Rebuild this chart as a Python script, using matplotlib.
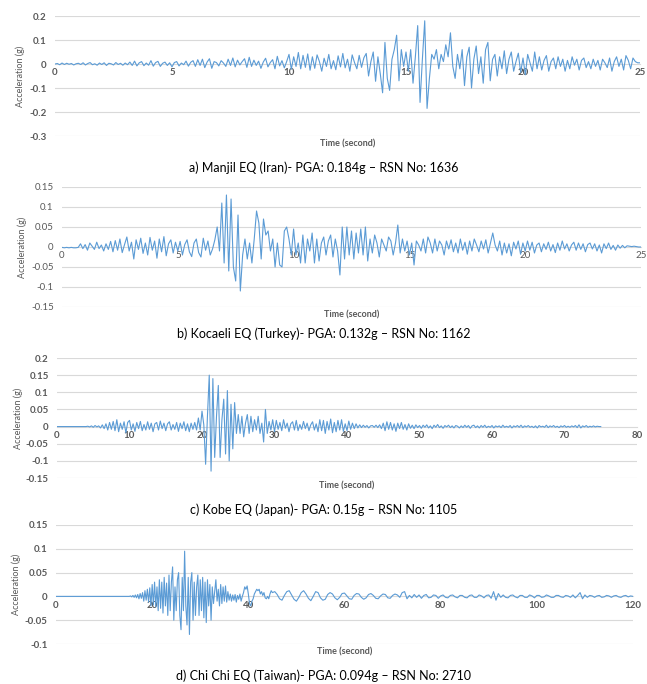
import numpy as np
import matplotlib
matplotlib.use('Agg')
import matplotlib.pyplot as plt

plt.rcParams['font.family'] = ['Lato', 'DejaVu Sans']

# ground motion records, in milli-g
# a) Manjil, sampled every 0.1 s from 0 to 25 s
manjil_dt = 0.1
manjil_mg = [
    0, 2, -3, 4, -2, 3, -1, 2, -4, 1,
    3, -2, 5, -4, 2, 6, -3, 1, -5, 4,
    -2, 5, -6, 3, 1, -4, 6, -2, 3, -5,
    4, -3, 8, -6, 12, -8, 5, 10, -7, 4,
    -5, 14, -9, 6, 11, -10, 3, 8, -6, 5,
    -12, 6, 10, -8, 4, -3, 12, -9, 7, 14,
    -10, 18, -6, 20, -15, 8, 22, -18, 10, 6,
    -8, 14, 4, -10, 20, -6, 25, -12, 16, -4,
    10, 22, -14, 28, -10, 16, -6, 12, -18, 8,
    24, -12, 6, 18, -20, 32, -8, 14, -16, 10,
    40, -22, 30, -10, 48, -20, 36, -14, 42, -26,
    30, -18, 38, 10, -30, 24, -10, 40, -20, 14,
    -24, 34, -12, 44, -16, 20, -30, 38, 6, -20,
    36, -14, 26, 44, -50, 10, 50, -72, 30, -40,
    -120, 90, -60, -110, 20, 60, 120, -70, 60, -10,
    50, -30, 60, -80, 30, 160, -160, 20, 180, -185,
    -60, 40, 20, 60, -20, 40, 10, 80, 30, 130,
    -10, -60, 40, -20, 60, -90, 30, 70, -100, 20,
    75, -40, 30, -80, 60, 90, -70, 20, 40, -50,
    30, -20, 55, -40, 20, 50, -30, 10, 45, -35,
    25, -45, 40, 5, -30, 50, -20, 30, -25, 15,
    35, -30, 10, 25, -20, 30, -10, 20, -30, 15,
    -20, 30, -5, 20, -25, 15, 25, -15, 10, -20,
    20, -10, 15, -25, 20, 5, -15, 25, -30, 10,
    30, -10, 20, -25, 35, 15, -20, 25, 10, 5,
    5]

# b) Kocaeli, every 0.1 s from 0 to 25 s
kocaeli_dt = 0.1
kocaeli_mg = [
    -1, -2, -1, -2, -1, -2, -2, -1, 8, -4,
    6, -8, 10, 2, -6, 12, -4, 5, -10, 8,
    -6, 14, -12, 16, -8, 20, -14, 6, 25, -10,
    12, -30, 18, -6, 22, -16, 10, -20, 24, -8,
    15, -28, 20, -12, 26, -22, 8, 18, -15, 12,
    -10, 14, -20, 6, 18, -12, -24, 10, 20, -14,
    -25, 22, -8, 15, -20, -5, 18, 50, -10, 110,
    -40, 130, -60, 120, -50, -85, 80, -110, -20, 20,
    -30, 10, -40, 20, 90, 60, -30, 70, 30, 40,
    -10, 20, -50, 10, -45, -50, 40, 50, 20, -20,
    45, -20, 10, -40, 30, -40, 20, -10, 35, -40,
    20, -35, 10, 25, -20, 15, 30, -25, 20, -10,
    -70, 50, -30, 50, -20, 40, -30, 35, -15, 45,
    -20, 50, -35, 20, -15, 30, 10, -25, 20, 5,
    -10, 25, 15, -20, 10, 55, -15, 20, -10, 15,
    -20, 10, -45, 15, 5, -10, 20, -15, 25, 10,
    -15, 20, -10, 15, 5, -20, 15, -5, 18, -12,
    10, -15, 20, -8, 12, -18, 15, -10, 20, 5,
    -12, 15, -5, 18, -15, 10, 35, 5, -10, 15,
    -20, 10, -15, 8, -22, 12, -5, 15, -18, 10,
    -10, 15, -8, 12, -15, 5, 10, -12, 8, -6,
    12, -10, 6, -14, 10, -8, 15, -5, 8, -10,
    5, 12, -8, 10, -6, 8, -12, 6, 10, -5,
    8, -10, 5, -15, 8, -4, 10, -6, 4, -8,
    5, -3, 4, -2, 3, 2, 1, 2, 1, 0,
    0]

# c) Kobe, every 0.25 s from 0 to 75 s
kobe_dt = 0.25
kobe_mg = [
    0, 0, 0, 0, 0, 0, 0, 0, 0, 0, 0, 0, 0, 0, 0, 0,
    0, 1, -1, 2, -2, 3, -1, 2, -4, 5, -6, 8, -10, 12, -8, 15,
    -12, 20, -15, 10, -8, 14, -18, 12, 18, -10, 8, -14, 12, -6, 15, -12,
    6, -10, 14, -8, 10, -15, 8, 12, -10, 16, -6, 10, -12, 8, 14, -10,
    6, -8, 12, -14, 10, -6, 14, -12, 8, -15, 10, -8, 12, -10, 25, -10,
    45, 5, -110, 30, 150, -130, 140, -90, 30, 120, -90, 20, 80, -80, 105, -100,
    65, -65, 70, -20, 35, -20, 30, -30, 10, 35, -20, 30, -15, 20, -10, 30,
    -20, 10, -45, 50, -20, 15, -10, 20, -15, 18, -8, 12, -12, 20, -5, 10,
    -15, 8, 14, -10, 18, -12, 6, -8, 15, -6, 10, -12, 5, 14, -10, 8,
    -15, 20, -12, 18, -20, 15, -10, 22, -18, 12, -15, 18, -10, 20, -14, 8,
    -12, 16, -8, 10, -6, 8, -4, 5, -3, 4, -2, 3, -4, 2, 3, -2,
    4, -3, 5, -6, 10, -12, 14, -8, 12, -10, 8, -14, 10, -6, 12, -8,
    6, -10, 8, -5, 4, -6, 5, -3, 3, -5, 4, -2, 5, -4, 2, -6,
    4, -2, 6, -3, 2, -5, 3, -1, 4, -3, 2, -4, 3, 1, -4, 2,
    -3, 4, -2, 3, -5, 2, 4, -3, 2, -4, 3, -2, 4, -3, 1, -2,
    3, -4, 2, -1, 2, -3, 4, -2, 1, -2, 3, -4, 2, -1, 3, -2,
    4, -3, 2, -1, 3, -2, 1, -3, 2, -4, 3, -1, 1, -2, 4, -3,
    2, -1, 3, -2, 1, -3, 2, -1, 3, -2, 1, -2, 2, -1, 3, -3,
    5, -4, 2, -1, 3, -2, 1, -1, 2, -1, 1, 0,
    0]

# d) Chi Chi: quiet start, dense part every 0.25 s, tail every 0.5 s
chichi_quiet_t = [0, 15.25]
chichi_quiet_mg = [0, 0]
chichi_dense_t0 = 15.5
chichi_dense_dt = 0.25
chichi_dense_mg = [
    1, -1,
    2, -2, 3, -3, 4, -5, 6, -4, 8, -10, 12, -8, 15, -12, 18, -20,
    25, -18, 30, -22, 20, -30, 35, -25, 30, -35, 40, -20, 28, -40, 45, -30,
    30, 62, -50, 20, -30, 35, 50, -40, -70, 40, -30, 95, -20, -60, 40, -80,
    30, 50, -50, 30, -40, 20, 45, -40, 35, -30, 40, -45, 30, -55, 35, -20,
    25, -50, 20, -15, 10, 35, -10, 15, -20, 25, -15, 20, -10, 22, -12, 10,
    -8, 5, -10, 3, -8, 4, -12, 2, -6, 5, -10, 0, 8, 20, 15, 22,
    5, -15, -20, -10, -5, 5, 10, 15, 12, 15, 5, 10, 2, 8, -3, -5,
    0, -5, 5, 12,
    8]
chichi_tail_t0 = 45.5
chichi_tail_dt = 0.5
chichi_tail_mg = [
    10, 4, -5, -8, 2, 10, 12, 3, -6, -10,
    -2, 8, 12, 5, -4, -9, 0, 10, 8, -3,
    -8, -6, 4, 8, 5, -3, -7, -2, 6, 7,
    1, -5, -6, 2, 6, 5, -2, -6, -3, 4,
    6, 2, -4, -5, 1, 5, 4, -3, -4, 2,
    5, 3, -2, 8, 10, -5, 2, -3, 4, -2,
    3, -4, 2, 4, -3, -2, 3, 2, -4, 1,
    3, -2, -3, 2, 3, -1, -3, 2, 2, -2,
    -3, 2, 3, -2, -2, 3, 1, -3, 2, 3,
    -4, 10, -8, 6, -2, 3, -2, -3, 2, 3,
    -1, -3, 2, 2, -2, -2, 3, 1, -3, 2,
    2, -2, -1, 3, 1, -2, -2, 2, 2, -1,
    -2, 2, 1, -2, 3, -3, 2, 8, -5, 3,
    -2, 2, 1, -2, 1, 2, -2, -1, 2, 1,
    -2, 1, 2, -1, -2, 1, 2, -1, 1, 0]

captions = [
    'a) Manjil EQ (Iran)- PGA: 0.184g \u2013 RSN No: 1636',
    'b) Kocaeli EQ (Turkey)- PGA: 0.132g \u2013 RSN No: 1162',
    'c) Kobe EQ (Japan)- PGA: 0.15g \u2013 RSN No: 1105',
    'd) Chi Chi EQ (Taiwan)- PGA: 0.094g \u2013 RSN No: 2710',
]
yticks_a = ['-0.3', '-0.2', '-0.1', '0', '0.1', '0.2']
yticks_b = ['-0.15', '-0.1', '-0.05', '0', '0.05', '0.1', '0.15']
yticks_c = ['-0.15', '-0.1', '-0.05', '0', '0.05', '0.1', '0.15', '0.2']
yticks_d = ['-0.1', '-0.05', '0', '0.05', '0.1', '0.15']
xticks_a = [0, 5, 10, 15, 20, 25]
xticks_b = [0, 5, 10, 15, 20, 25]
xticks_c = [0, 10, 20, 30, 40, 50, 60, 70, 80]
xticks_d = [0, 20, 40, 60, 80, 100, 120]

LINE = '#5B9BD5'
GRID = '#d9d9d9'
TXT = '#595959'

W, H = 647, 684
fig = plt.figure(figsize=(W / 100, H / 100), dpi=100)


def px_rect(x0, y0, x1, y1):
    return [x0 / W, 1 - y1 / H, (x1 - x0) / W, (y1 - y0) / H]


def panel(box, t, mg, xticks, ylabels, caption, cap_y, bold, ylab_x):
    ax = fig.add_axes(px_rect(*box))
    acc = np.asarray(mg) / 1000.0
    ax.plot(t, acc, color=LINE, lw=0.8, zorder=3)
    yt = [float(s) for s in ylabels]
    ax.set_xlim(xticks[0], xticks[-1])
    ax.set_ylim(yt[0], yt[-1])
    ax.set_yticks(yt)
    ax.set_yticklabels(ylabels)
    ax.set_xticks(xticks)
    ax.set_xticklabels([str(v) for v in xticks])
    for y in yt:
        if y != 0:
            ax.axhline(y, color=GRID, lw=0.8, zorder=0)
    for s in ['top', 'right', 'left']:
        ax.spines[s].set_visible(False)
    ax.spines['bottom'].set_position(('data', 0))
    ax.spines['bottom'].set_color(GRID)
    ax.spines['bottom'].set_linewidth(0.8)
    ax.tick_params(length=0, labelsize=7, labelcolor=TXT)
    ax.tick_params(axis='x', pad=3)
    ax.tick_params(axis='y', pad=6)
    w = 'bold' if bold else 'normal'
    for lab in ax.get_xticklabels() + ax.get_yticklabels():
        lab.set_fontweight(w)
    ax.set_ylabel('Acceleration (g)', fontsize=6.5, color=TXT)
    # ylab_x is the pixel column of the label's right edge
    ax.yaxis.set_label_coords((ylab_x - box[0]) / (box[2] - box[0]), 0.5)
    ax.text(0.5, -0.065, 'Time (second)', transform=ax.transAxes, ha='center',
            va='center', fontsize=6.5, fontweight='bold', color=TXT)
    fig.text(0.5, 1 - cap_y / H, caption, ha='center', va='center',
             fontsize=9, color='black')
    return ax


t_a = np.arange(len(manjil_mg)) * manjil_dt
t_b = np.arange(len(kocaeli_mg)) * kocaeli_dt
t_c = np.arange(len(kobe_mg)) * kobe_dt
t_d = np.concatenate([
    chichi_quiet_t,
    chichi_dense_t0 + np.arange(len(chichi_dense_mg)) * chichi_dense_dt,
    chichi_tail_t0 + np.arange(len(chichi_tail_mg)) * chichi_tail_dt,
])
mg_d = chichi_quiet_mg + chichi_dense_mg + chichi_tail_mg

panel((55, 16, 640, 136), t_a, manjil_mg, xticks_a, yticks_a, captions[0], 168, True, 25)
panel((62, 187, 641, 307), t_b, kocaeli_mg, xticks_b, yticks_b, captions[1], 334, False, 27)
panel((57, 358, 637, 478), t_c, kobe_mg, xticks_c, yticks_c, captions[2], 510, True, 23)
panel((56, 525, 633, 644), t_d, mg_d, xticks_d, yticks_d, captions[3], 676, True, 21)

fig.savefig('out.png', dpi=100)
